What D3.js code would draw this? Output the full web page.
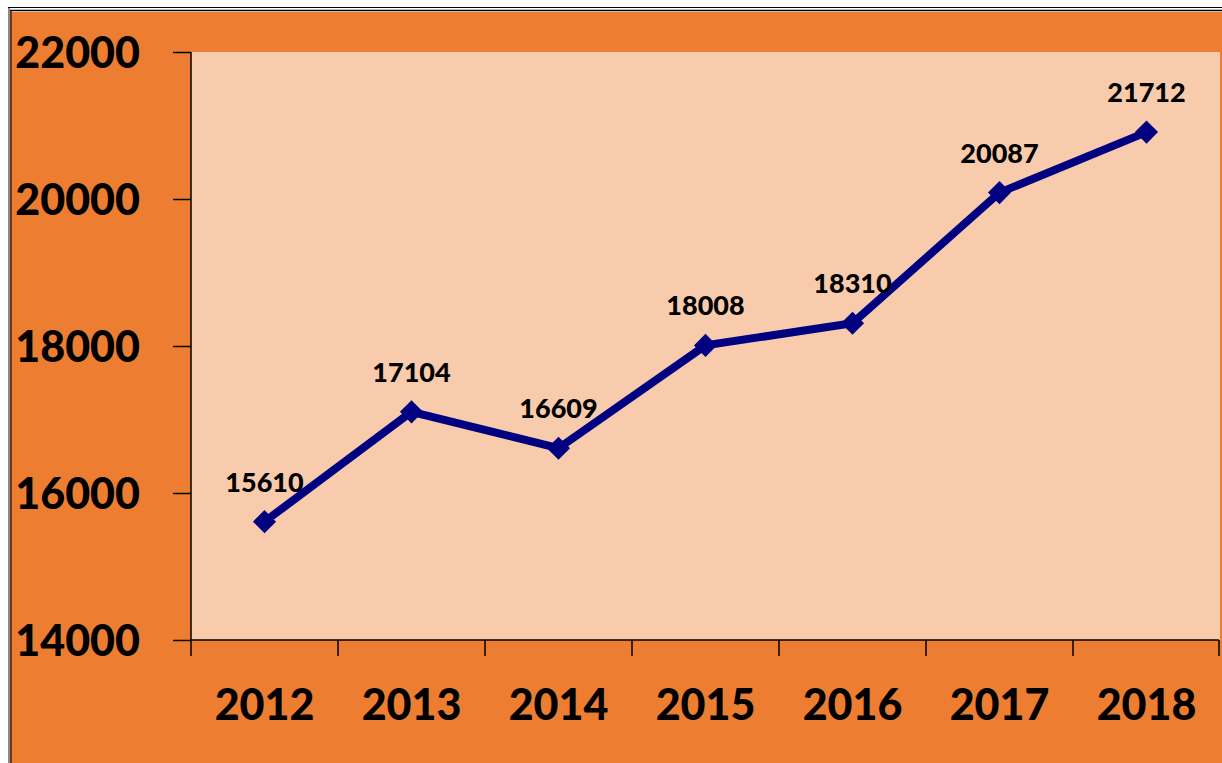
<!DOCTYPE html>
<html>
<head>
<meta charset="utf-8">
<script src="https://cdn.jsdelivr.net/npm/d3@7"></script>
<style>
    body { margin: 0; background: white; }
    svg { display: block; }
    text { font-family: Lato, "Open Sans", sans-serif; font-weight: 900; fill: black; }
</style>
</head>
<body>
<div class="chart_holder"></div>
<script>

const years = ["2012", "2013", "2014", "2015", "2016", "2017", "2018"]
// plotted position of each point (the 2018 marker sits lower than its label says)
const values = [15610, 17104, 16609, 18008, 18310, 20087, 20910]
const value_labels = ["15610", "17104", "16609", "18008", "18310", "20087", "21712"]
const y_ticks = [14000, 16000, 18000, 20000, 22000]


function drawChart() {

    const width = 1222
    const height = 763
    const plot = { left: 191, right: 1220, top: 52, bottom: 640 }

    const data = years.map((d, i) => ({ year: d, value: values[i], label: value_labels[i] }))

    const svg = d3.select(".chart_holder")
        .append("svg")
        .attr("width", width)
        .attr("height", height)

    // frame
    svg.append("rect")
        .attr("x", 12).attr("y", 12)
        .attr("width", width - 12).attr("height", height - 12)
        .attr("fill", "#ED7D31")

    svg.append("line")
        .attr("x1", 8).attr("x2", width).attr("y1", 7.5).attr("y2", 7.5)
        .attr("stroke", "black").attr("stroke-width", 1)
    svg.append("line")
        .attr("x1", 8).attr("x2", width).attr("y1", 10.5).attr("y2", 10.5)
        .attr("stroke", "black").attr("stroke-width", 1.5)
    svg.append("line")
        .attr("x1", 9).attr("x2", 9).attr("y1", 8).attr("y2", height)
        .attr("stroke", "#8a8a8a").attr("stroke-width", 2)
    svg.append("line")
        .attr("x1", 11).attr("x2", 11).attr("y1", 11).attr("y2", height)
        .attr("stroke", "#6b3a1c").attr("stroke-width", 2)

    const x_scale = d3.scaleBand()
        .domain(years)
        .range([plot.left, plot.right])

    const y_scale = d3.scaleLinear()
        .domain([14000, 22000])
        .range([plot.bottom, plot.top])

    // plot area
    svg.append("rect")
        .attr("x", plot.left)
        .attr("y", plot.top)
        .attr("width", plot.right - plot.left)
        .attr("height", plot.bottom - plot.top)
        .attr("fill", "#F8CBAD")

    // y axis
    const y_axis = d3.axisLeft(y_scale)
        .tickValues(y_ticks)
        .tickSize(18)
        .tickPadding(33)
        .tickFormat(d3.format("d"))

    const y_g = svg.append("g")
        .attr("transform", `translate(${plot.left},0)`)
        .call(y_axis)

    y_g.selectAll("path, line").attr("stroke", "black").attr("stroke-width", 1.5)
    y_g.select(".domain").attr("d", `M0,${plot.top}V${plot.bottom}`)
    y_g.selectAll("text")
        .style("font-size", "43px")
        .attr("fill", "black")
        .attr("dy", "0.36em")

    // x axis
    const x_axis = d3.axisBottom(x_scale)
        .tickSize(0)
        .tickPadding(70)

    const x_g = svg.append("g")
        .attr("transform", `translate(0,${plot.bottom})`)
        .call(x_axis)

    x_g.select(".domain").attr("d", `M${plot.left},0H${plot.right - 1}`)
        .attr("stroke", "black").attr("stroke-width", 1.5)
    x_g.selectAll("text")
        .style("font-size", "43px")
        .attr("fill", "black")
        .attr("dy", "0.71em")
        .attr("y", 49)

    // category separators
    x_g.append("g")
        .selectAll("line")
        .data(years.concat(["end"]))
        .join("line")
        .attr("x1", (d, i) => i < years.length ? x_scale(d) : plot.right - 1)
        .attr("x2", (d, i) => i < years.length ? x_scale(d) : plot.right - 1)
        .attr("y1", 0)
        .attr("y2", 16)
        .attr("stroke", "black")
        .attr("stroke-width", 1.5)

    const x_center = d => x_scale(d.year) + x_scale.bandwidth() / 2

    // line
    const line_gen = d3.line()
        .x(x_center)
        .y(d => y_scale(d.value))

    svg.append("path")
        .datum(data)
        .attr("d", line_gen)
        .attr("fill", "none")
        .attr("stroke", "#000080")
        .attr("stroke-width", 8)
        .attr("stroke-linejoin", "miter")

    // markers
    svg.append("g")
        .selectAll("path")
        .data(data)
        .join("path")
        .attr("d", d3.symbol().type(d3.symbolDiamond2).size(340)())
        .attr("transform", d => `translate(${x_center(d)},${y_scale(d.value)})`)
        .attr("fill", "#000080")

    // value labels
    svg.append("g")
        .selectAll("text")
        .data(data)
        .join("text")
        .attr("x", x_center)
        .attr("y", d => y_scale(d.value) - 30)
        .attr("text-anchor", "middle")
        .style("font-size", "27px")
        .text(d => d.label)
}

drawChart()
</script>
</body>
</html>
